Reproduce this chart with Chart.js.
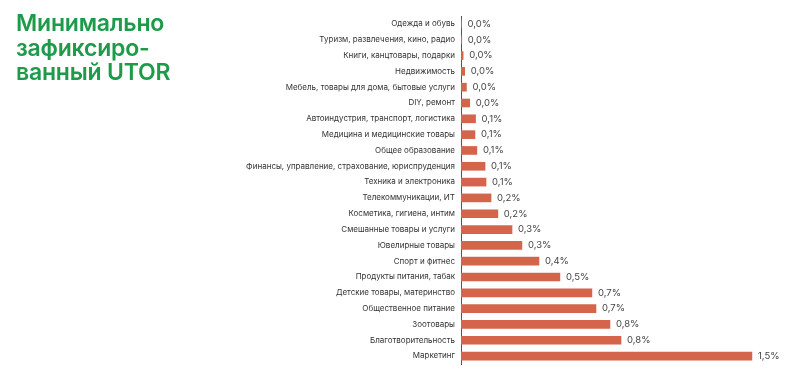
<!DOCTYPE html>
<html>
<head>
<meta charset="utf-8">
<script src="https://cdn.jsdelivr.net/npm/chart.js@4/dist/chart.umd.min.js"></script>
<style>
  html, body { margin: 0; padding: 0; background: #fff; }
  #wrap { position: relative; width: 800px; height: 370px; }
  #title {
    position: absolute; left: 16px; top: 11px;
    font-family: "Inter", "Noto Sans", sans-serif;
    font-weight: 600; font-size: 23px; line-height: 24.5px;
    color: #1d9a4a; letter-spacing: -0.2px;
  }
  canvas { position: absolute; left: 0; top: 0; }
</style>
</head>
<body>
<div id="wrap">
  <canvas id="chart" width="800" height="370"></canvas>
  <div id="title">Минимально<br>зафиксиро-<br>ванный UTOR</div>
</div>
<script>
// categories, top to bottom
const categories = [
  "Одежда и обувь",
  "Туризм, развлечения, кино, радио",
  "Книги, канцтовары, подарки",
  "Недвижимость",
  "Мебель, товары для дома, бытовые услуги",
  "DIY, ремонт",
  "Автоиндустрия, транспорт, логистика",
  "Медицина и медицинские товары",
  "Общее образование",
  "Финансы, управление, страхование, юриспруденция",
  "Техника и электроника",
  "Телекоммуникации, ИТ",
  "Косметика, гигиена, интим",
  "Смешанные товары и услуги",
  "Ювелирные товары",
  "Спорт и фитнес",
  "Продукты питания, табак",
  "Детские товары, материнство",
  "Общественное питание",
  "Зоотовары",
  "Благотворительность",
  "Маркетинг"
];

// share, %
const values = [
  0.003, 0.004, 0.011, 0.019, 0.028, 0.045, 0.075, 0.072, 0.082, 0.124, 0.129,
  0.155, 0.19, 0.263, 0.314, 0.402, 0.51, 0.675, 0.696, 0.768, 0.825, 1.5
];

// printed labels
const valueLabels = [
  "0,0%", "0,0%", "0,0%", "0,0%", "0,0%", "0,0%", "0,1%", "0,1%", "0,1%", "0,1%", "0,1%",
  "0,2%", "0,2%", "0,3%", "0,3%", "0,4%", "0,5%", "0,7%", "0,7%", "0,8%", "0,8%", "1,5%"
];

const barLabels = {
  id: "barLabels",
  afterDatasetsDraw(chart) {
    const ctx = chart.ctx;
    const meta = chart.getDatasetMeta(0);
    ctx.save();
    ctx.font = "9.5px 'Inter', 'Noto Sans', sans-serif";
    ctx.fillStyle = "#444";
    ctx.textAlign = "left";
    ctx.textBaseline = "middle";
    meta.data.forEach((bar, i) => {
      ctx.fillText(valueLabels[i], bar.x + 6, bar.y);
    });
    ctx.restore();
  }
};

new Chart(document.getElementById("chart"), {
  type: "bar",
  data: {
    labels: categories,
    datasets: [{
      data: values,
      backgroundColor: "#d4654a",
      barThickness: 8
    }]
  },
  options: {
    indexAxis: "y",
    responsive: false,
    animation: false,
    layout: { padding: { top: 16, bottom: 6, right: 19, left: 0 } },
    plugins: { legend: { display: false }, tooltip: { enabled: false } },
    scales: {
      x: {
        display: false,
        min: 0,
        max: 1.65
      },
      y: {
        afterFit: (scale) => {
          scale.width = 461;
          scale.paddingTop = 0;
          scale.paddingBottom = 0;
        },
        grid: { display: false, drawTicks: false },
        border: { display: true, color: "#555", width: 1 },
        ticks: {
          padding: 6,
          color: "#333",
          font: { family: "'Inter', 'Noto Sans', sans-serif", size: 8 }
        }
      }
    }
  },
  plugins: [barLabels]
});
</script>
</body>
</html>
